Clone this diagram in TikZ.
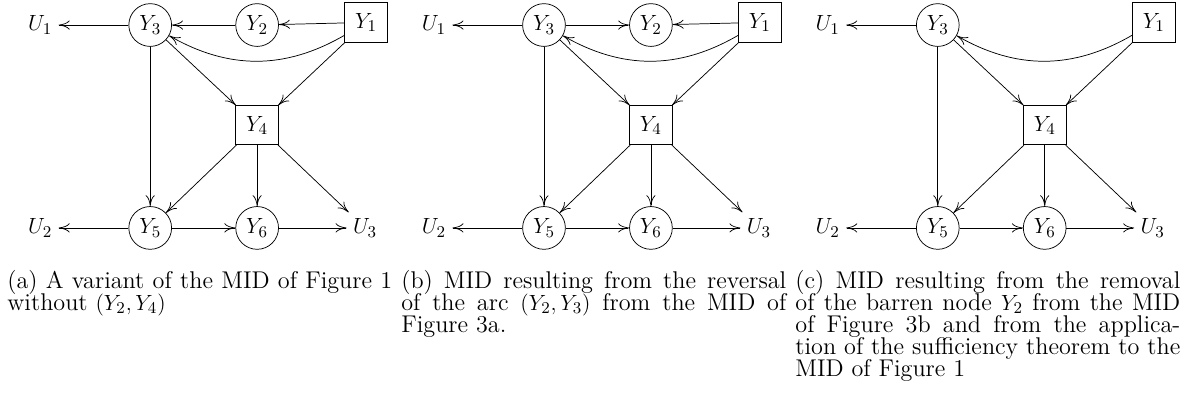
\documentclass[tikz,border=0pt]{standalone}
\usepackage{amsmath,amssymb}
\usepackage{tikz}
\usetikzlibrary{arrows.meta}

\begin{document}
\begin{tikzpicture}[
    >={Computer Modern Rightarrow[length=6pt, width=5pt]},
    font=\fontsize{13.2pt}{12pt}\selectfont,
    chance/.style={draw, circle, minimum size=0.82cm, inner sep=1pt},
    decision/.style={draw, rectangle, minimum width=0.82cm, minimum height=0.75cm, inner sep=1pt},
    utility/.style={},
    arc/.style={->},
    capt/.style={anchor=base west, inner sep=0pt},
]
\useasboundingbox (0,0) rectangle (22.835,-7.861);

% =============================================
% (a) variant of the MID without (Y2,Y4)
% =============================================
\node[utility]  at (0.77, -0.48) (a_u1) {$U_1$};
\node[chance]   at (2.88, -0.48) (a_y3) {$Y_3$};
\node[chance]   at (4.93, -0.48) (a_y2) {$Y_2$};
\node[decision] at (7.02, -0.43) (a_y1) {$Y_1$};
\node[decision] at (4.93, -2.40) (a_y4) {$Y_4$};
\node[utility]  at (0.77, -4.37) (a_u2) {$U_2$};
\node[chance]   at (2.88, -4.37) (a_y5) {$Y_5$};
\node[chance]   at (4.93, -4.37) (a_y6) {$Y_6$};
\node[utility]  at (7.00, -4.37) (a_u3) {$U_3$};

\draw[arc] (a_y3) -- (a_u1);
\draw[arc] (a_y2) -- (a_y3);
\draw[arc] (a_y1) -- (a_y2);
\draw[arc] (a_y1) to[bend left=30] (a_y3);
\draw[arc] (a_y3) -- (a_y4);
\draw[arc] (a_y1) -- (a_y4);
\draw[arc] (a_y3) -- (a_y5);
\draw[arc] (a_y4) -- (a_y5);
\draw[arc] (a_y4) -- (a_y6);
\draw[arc] (a_y4) -- (a_u3);
\draw[arc] (a_y5) -- (a_u2);
\draw[arc] (a_y5) -- (a_y6);
\draw[arc] (a_y6) -- (a_u3);

\node[capt] at (0.134, -5.522) (a_capt) {\parbox[t]{210pt}{\lineskiplimit=-100pt\relax
    (a) A variant of the MID of Figure 1\linebreak
    without $(Y_2, Y_4)$}};

% =============================================
% (b) after reversal of the arc (Y2,Y3)
% =============================================
\node[utility]  at (8.32, -0.48) (b_u1) {$U_1$};
\node[chance]   at (10.43, -0.48) (b_y3) {$Y_3$};
\node[chance]   at (12.48, -0.48) (b_y2) {$Y_2$};
\node[decision] at (14.57, -0.43) (b_y1) {$Y_1$};
\node[decision] at (12.48, -2.40) (b_y4) {$Y_4$};
\node[utility]  at (8.32, -4.37) (b_u2) {$U_2$};
\node[chance]   at (10.43, -4.37) (b_y5) {$Y_5$};
\node[chance]   at (12.48, -4.37) (b_y6) {$Y_6$};
\node[utility]  at (14.55, -4.37) (b_u3) {$U_3$};

\draw[arc] (b_y3) -- (b_u1);
\draw[arc] (b_y3) -- (b_y2);
\draw[arc] (b_y1) -- (b_y2);
\draw[arc] (b_y1) to[bend left=30] (b_y3);
\draw[arc] (b_y3) -- (b_y4);
\draw[arc] (b_y1) -- (b_y4);
\draw[arc] (b_y3) -- (b_y5);
\draw[arc] (b_y4) -- (b_y5);
\draw[arc] (b_y4) -- (b_y6);
\draw[arc] (b_y4) -- (b_u3);
\draw[arc] (b_y5) -- (b_u2);
\draw[arc] (b_y5) -- (b_y6);
\draw[arc] (b_y6) -- (b_u3);

\node[capt] at (7.688, -5.522) (b_capt) {\parbox[t]{210pt}{\lineskiplimit=-100pt\relax
    (b) MID resulting from the reversal\linebreak
    of the arc $(Y_2, Y_3)$ from the MID of\linebreak Figure 3a.}};

% =============================================
% (c) barren node Y2 removed
% =============================================
\node[utility]  at (15.87, -0.48) (c_u1) {$U_1$};
\node[chance]   at (17.98, -0.48) (c_y3) {$Y_3$};
\node[decision] at (22.12, -0.43) (c_y1) {$Y_1$};
\node[decision] at (20.03, -2.40) (c_y4) {$Y_4$};
\node[utility]  at (15.87, -4.37) (c_u2) {$U_2$};
\node[chance]   at (17.98, -4.37) (c_y5) {$Y_5$};
\node[chance]   at (20.03, -4.37) (c_y6) {$Y_6$};
\node[utility]  at (22.10, -4.37) (c_u3) {$U_3$};

\draw[arc] (c_y3) -- (c_u1);
\draw[arc] (c_y1) to[bend left=30] (c_y3);
\draw[arc] (c_y3) -- (c_y4);
\draw[arc] (c_y1) -- (c_y4);
\draw[arc] (c_y3) -- (c_y5);
\draw[arc] (c_y4) -- (c_y5);
\draw[arc] (c_y4) -- (c_y6);
\draw[arc] (c_y4) -- (c_u3);
\draw[arc] (c_y5) -- (c_u2);
\draw[arc] (c_y5) -- (c_y6);
\draw[arc] (c_y6) -- (c_u3);

\node[capt] at (15.243, -5.522) (c_capt) {\parbox[t]{210pt}{\lineskiplimit=-100pt\relax
    (c) MID resulting from the removal\linebreak
    of the barren node $Y_2$ from the MID\linebreak of Figure 3b and from the applica-\linebreak
    tion of the sufficiency theorem to the\linebreak MID of Figure 1}};

\end{tikzpicture}
\end{document}
